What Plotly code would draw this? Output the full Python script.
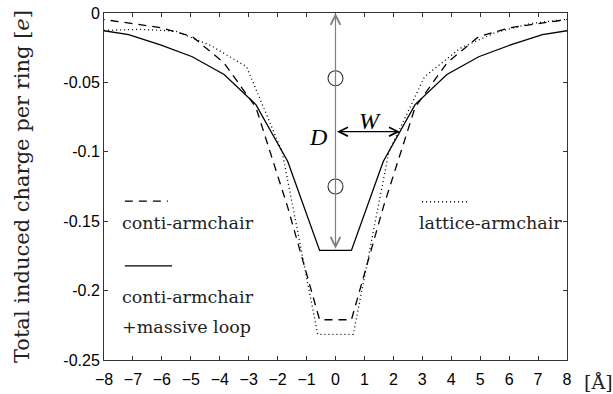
import numpy as np
import plotly.graph_objects as go

# ring positions [Angstrom] and induced charge per ring [e]
x_conti = [-8.25, -7.15, -6.05, -4.95, -3.85, -2.75, -1.65, -0.55,
           0.55, 1.65, 2.75, 3.85, 4.95, 6.05, 7.15, 8.25]
q_conti = [-0.004, -0.007, -0.0105, -0.017, -0.036, -0.068, -0.140, -0.221,
           -0.221, -0.140, -0.068, -0.036, -0.017, -0.0105, -0.007, -0.004]
q_loop = [-0.012, -0.0155, -0.023, -0.0315, -0.0443, -0.066, -0.107, -0.171,
          -0.171, -0.107, -0.066, -0.0443, -0.0315, -0.023, -0.0155, -0.012]

x_lattice = [-7.995, -6.765, -5.535, -4.305, -3.075, -1.845, -0.615,
             0.615, 1.845, 3.075, 4.305, 5.535, 6.765, 7.995]
q_lattice = [-0.0125, -0.0118, -0.013, -0.0235, -0.0387, -0.100, -0.2315,
             -0.2315, -0.100, -0.046, -0.0254, -0.014, -0.0075, -0.0046]

x_ticks = list(range(-8, 9))
y_ticks = [0, -0.05, -0.1, -0.15, -0.2, -0.25]
y_ticktext = ["0", "-0.05", "-0.1", "-0.15", "-0.2", "-0.25"]
circle_q = [-0.047, -0.125]

SERIF = "DejaVu Serif"
SANS = "Liberation Sans, Arial"

# depth D and half width W of the massive-loop curve
depth = min(q_loop)
half = depth / 2
xs = np.array(x_conti)
qs = np.array(q_loop)
right = xs > 0
w_end = float(np.interp(half, qs[right], xs[right]))

fig = go.Figure()
fig.add_trace(go.Scatter(x=x_conti, y=q_conti, mode="lines",
                         line=dict(color="black", width=1.3, dash="8px,6px")))
fig.add_trace(go.Scatter(x=x_conti, y=q_loop, mode="lines",
                         line=dict(color="black", width=1.3)))
fig.add_trace(go.Scatter(x=x_lattice, y=q_lattice, mode="lines",
                         line=dict(color="black", width=1.3, dash="1px,3px")))
fig.add_trace(go.Scatter(x=[0] * len(circle_q), y=circle_q, mode="markers",
                         marker=dict(symbol="circle-open", size=15,
                                     color="#333", line=dict(width=1.1))))

anns = [
    dict(x=0, y=0, ax=0, ay=depth, xref="x", yref="y", axref="x", ayref="y",
         showarrow=True, arrowhead=5, startarrowhead=5, arrowside="end+start",
         arrowsize=1.6, startarrowsize=1.6, arrowwidth=1.2, arrowcolor="#808080", text=""),
    dict(x=w_end, y=half, ax=0, ay=half, xref="x", yref="y", axref="x", ayref="y",
         showarrow=True, arrowhead=5, startarrowhead=5, arrowside="end+start",
         arrowsize=1.6, startarrowsize=1.6, arrowwidth=1.1, arrowcolor="black", text=""),
    dict(x=-0.6, y=-0.089, xref="x", yref="y", text="<i>D</i>", showarrow=False,
         font=dict(family="Liberation Serif", size=24, color="black")),
    dict(x=1.2, y=-0.078, xref="x", yref="y", text="<i>W</i>", showarrow=False,
         font=dict(family="Liberation Serif", size=24, color="black")),
]

legend_font = dict(family=SERIF, size=17.5, color="#222")
for txt, xx, yy in [("conti-armchair", 0.035, 0.395),
                    ("conti-armchair", 0.035, 0.182),
                    ("+massive loop", 0.035, 0.096),
                    ("lattice-armchair", 0.675, 0.395)]:
    anns.append(dict(x=xx, y=yy, xref="paper", yref="paper", text=txt,
                     showarrow=False, xanchor="left", yanchor="middle", font=legend_font))

anns.append(dict(x=-0.178, y=0.5, xref="paper", yref="paper", textangle=-90,
                 xanchor="center", yanchor="middle",
                 text="Total induced charge per ring [<i>e</i>]", showarrow=False,
                 font=dict(family=SERIF, size=21, color="#222")))
anns.append(dict(x=1.033, y=-0.062, xref="paper", yref="paper", text="[Å]",
                 showarrow=False, xanchor="left", yanchor="middle",
                 font=dict(family=SERIF, size=19, color="#222")))

shapes = [
    dict(type="line", xref="paper", yref="paper", x0=0.045, x1=0.138, y0=0.458, y1=0.458,
         line=dict(color="black", width=1.3, dash="8px,6px")),
    dict(type="line", xref="paper", yref="paper", x0=0.045, x1=0.147, y0=0.271, y1=0.271,
         line=dict(color="black", width=1.3)),
    dict(type="line", xref="paper", yref="paper", x0=0.687, x1=0.784, y0=0.456, y1=0.456,
         line=dict(color="black", width=1.3, dash="1px,3px")),
]

axis_common = dict(showgrid=False, zeroline=False, showline=True, linecolor="#333",
                   linewidth=1, mirror="ticks", ticks="inside", ticklen=4, automargin=False,
                   tickcolor="#333", tickfont=dict(family=SANS, size=16, color="black"))

fig.update_layout(
    width=613, height=394,
    margin=dict(l=104, r=46, t=13, b=34),
    plot_bgcolor="white", paper_bgcolor="white",
    showlegend=False,
    xaxis=dict(range=[-8, 8], tickvals=x_ticks, ticklabelstandoff=5, **axis_common),
    yaxis=dict(range=[-0.25, 0], tickvals=y_ticks, ticktext=y_ticktext, **axis_common),
    annotations=anns,
    shapes=shapes,
)

fig.write_html("out.html", config={"displayModeBar": False},
               post_script="document.body.style.margin='0';")
